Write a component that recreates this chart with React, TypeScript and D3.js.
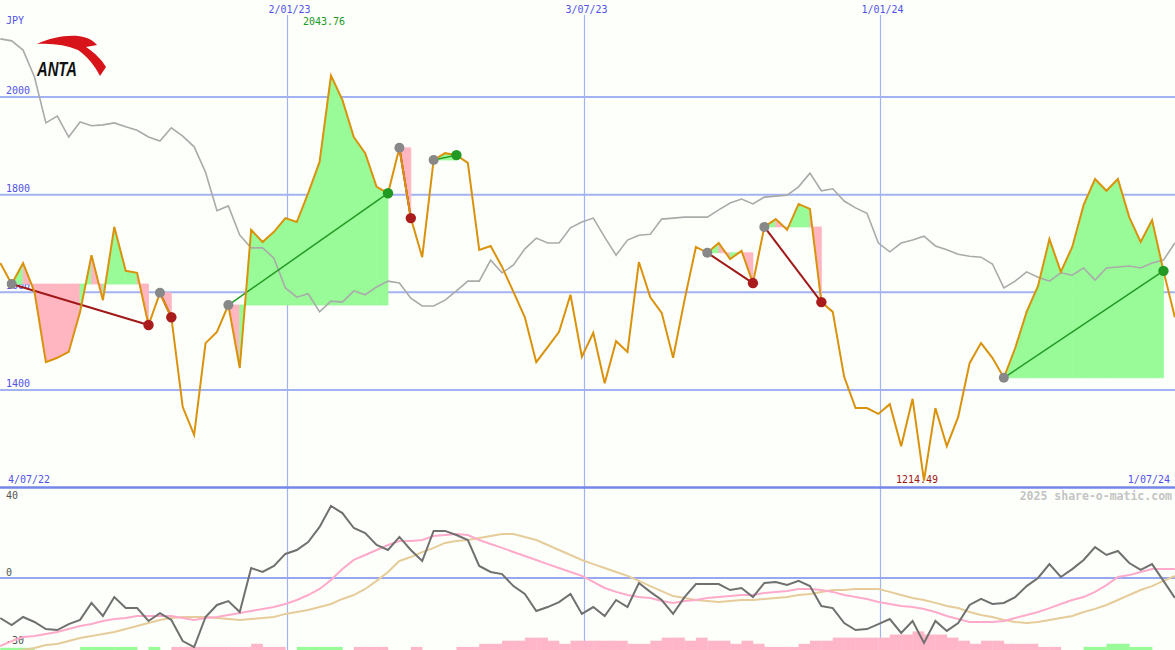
import React from 'react';
import * as d3 from 'd3';

// ANTA weekly close (JPY)
const priceJPY = [
  1660, 1617, 1660, 1601, 1457, 1466, 1478, 1560, 1676, 1584,
  1734, 1644, 1640, 1533, 1599, 1549, 1365, 1308, 1496, 1519,
  1574, 1445, 1728, 1703, 1724, 1752, 1744, 1803, 1867, 2043.76,
  1994, 1918, 1885, 1816, 1803, 1896, 1752, 1672, 1871, 1885,
  1881, 1865, 1687, 1695, 1652, 1601, 1549, 1457, 1488, 1519,
  1595, 1468, 1517, 1414, 1500, 1478, 1662, 1590, 1558, 1466,
  1584, 1693, 1681, 1701, 1668, 1685, 1619, 1734, 1750, 1728,
  1781, 1771, 1580, 1560, 1427, 1363, 1363, 1351, 1371, 1285,
  1382, 1214.49, 1363, 1285, 1345, 1455, 1496, 1466, 1425, 1486,
  1560, 1613, 1709, 1642, 1693, 1779, 1832, 1808, 1832, 1754,
  1703, 1748, 1644, 1549,
];

// comparison index, scaled to the price axis
const peerIndex = [
  2119, 2115, 2096, 2041, 1947, 1961, 1918, 1949, 1941, 1943,
  1947, 1939, 1932, 1918, 1910, 1937, 1920, 1898, 1846, 1767,
  1777, 1717, 1691, 1691, 1670, 1609, 1590, 1597, 1560, 1582,
  1580, 1603, 1595, 1611, 1623, 1619, 1588, 1572, 1572, 1584,
  1603, 1623, 1623, 1666, 1640, 1656, 1689, 1711, 1701, 1701,
  1732, 1744, 1752, 1713, 1676, 1707, 1717, 1719, 1750, 1752,
  1754, 1754, 1754, 1769, 1783, 1791, 1781, 1795, 1797, 1799,
  1816, 1844, 1808, 1812, 1787, 1773, 1762, 1701, 1683, 1701,
  1707, 1715, 1695, 1687, 1678, 1674, 1672, 1658, 1609, 1623,
  1642, 1631, 1623, 1640, 1635, 1650, 1625, 1650, 1652, 1654,
  1650, 1660, 1666, 1701,
];

// lower panel: oscillator and its two averages
const oscillator = [
  -19.3, -22.7, -18.8, -21.2, -24.6, -25.1, -22.2, -20.2, -12.0, -18.3,
  -9.2, -14.5, -14.5, -20.7, -16.9, -20.2, -30.4, -33.3, -18.8, -13.0,
  -11.1, -16.4, 4.8, 2.9, 5.8, 11.6, 13.5, 17.3, 24.6, 34.7,
  31.3, 24.1, 21.7, 15.9, 13.5, 19.8, 13.5, 8.2, 22.7, 22.7,
  20.7, 18.3, 5.8, 2.9, 1.9, -3.9, -7.7, -15.9, -14.0, -11.6,
  -7.7, -17.3, -14.0, -18.3, -10.6, -14.0, -2.4, -6.7, -10.6, -17.3,
  -9.2, -2.9, -2.9, -2.9, -5.8, -4.8, -9.2, -2.4, -1.9, -3.4,
  -1.4, -3.9, -13.5, -14.5, -21.7, -25.1, -24.6, -22.2, -19.8, -26.5,
  -20.7, -31.3, -20.7, -25.5, -21.7, -13.0, -10.1, -12.5, -12.0, -9.2,
  -3.9, 0.0, 6.7, 0.5, 4.3, 8.7, 14.9, 11.1, 13.0, 7.2,
  3.9, 6.7, -1.4, -9.6,
];

const maFast = [
  -32.8, -30.4, -28.4, -28.0, -27.0, -26.0, -24.6, -23.1, -22.2, -20.7,
  -19.8, -19.3, -18.3, -18.3, -18.3, -18.3, -19.3, -20.2, -19.3, -18.8,
  -17.8, -16.9, -15.9, -14.9, -14.0, -12.5, -10.6, -8.2, -5.3, -1.0,
  4.3, 8.7, 11.1, 13.5, 15.9, 17.8, 17.8, 18.3, 20.2, 20.7,
  21.2, 20.7, 18.3, 16.4, 14.5, 12.5, 10.6, 8.7, 6.7, 4.8,
  2.9, 1.0, -1.9, -4.8, -6.7, -8.2, -9.2, -9.6, -11.1, -12.0,
  -11.1, -10.6, -9.6, -9.2, -8.7, -8.2, -8.2, -7.2, -6.7, -6.3,
  -5.3, -5.3, -5.8, -6.7, -8.2, -9.2, -10.1, -11.6, -12.5, -13.5,
  -14.0, -14.9, -16.4, -18.3, -19.8, -21.2, -21.2, -21.2, -20.7, -19.3,
  -17.8, -16.4, -14.5, -12.5, -10.6, -9.2, -6.7, -3.4, 0.5, 1.4,
  2.9, 4.3, 4.3, 4.3,
];

const maSlow = [
  -36.6, -35.7, -34.7, -33.7, -32.3, -31.8, -30.4, -28.9, -27.9, -27.0,
  -26.0, -24.6, -23.1, -21.7, -20.2, -19.3, -18.8, -18.8, -18.8, -19.3,
  -19.8, -20.2, -19.8, -19.3, -18.8, -17.3, -16.4, -15.4, -14.0, -12.5,
  -10.1, -8.2, -5.3, -1.4, 2.9, 8.2, 10.1, 12.5, 14.5, 16.9,
  17.8, 18.3, 19.3, 20.2, 21.2, 21.2, 19.8, 18.3, 15.9, 13.5,
  11.1, 8.7, 6.7, 4.8, 2.9, 1.0, -1.4, -3.9, -6.3, -8.7,
  -9.6, -10.6, -11.1, -11.6, -11.1, -10.6, -10.6, -10.1, -9.6, -9.2,
  -8.2, -7.7, -6.7, -5.8, -5.8, -5.3, -5.3, -5.3, -6.7, -8.2,
  -9.6, -10.6, -12.0, -13.5, -14.5, -16.4, -17.8, -18.8, -20.2, -21.2,
  -21.7, -21.2, -20.2, -19.3, -18.3, -16.4, -14.9, -13.0, -10.6, -8.2,
  -5.8, -3.9, -1.4, 1.0,
];

// bottom histogram (positive = green, negative = pink)
const histogram = [
  0.7, 0.7, 0.7, 0, 0, 0, 0, 1, 1, 1,
  1, 1, 0, 1, 0, -1, -1, -1, -1, -1,
  -1, -1, -2, -1, -1, 0, 1, 1, 1, 1,
  0, -1, -1, -1, 0, 0, -1, 0, 0, 0,
  -1, -1, -2, -2, -3, -3, -4, -4, -3, -2,
  -3, -3, -3, -3, -3, -2, -2, -3, -4, -4,
  -3, -4, -3, -3, -2, -3, -2, -1, -1, -1,
  -2, -3, -3, -4, -4, -4, -4, -4, -5, -5,
  -6, -5, -5, -4, -3, -2, -3, -3, -2, -2,
  -2, -1, -1, 0, 0, 1, 1, 2, 2, 1,
  1, 0, 0, 0,
];

// trades: week index of entry and exit
const tradeEntries = [1, 14, 20, 35, 38, 62, 67, 88];
const tradeExits = [13, 15, 34, 36, 40, 66, 72, 102];

const gridDates = ['2023-01-02', '2023-07-03', '2024-01-01'];
const priceTicks = [2000, 1800, 1600, 1400];
const oscTicks = [40, 0, -30];
const currency = 'JPY';
const watermark = '2025 share-o-matic.com';

const W = 1175;
const H = 650;
const BG = '#fcfffa';
const GRID = '#a3b2f2';
const LABEL = '#5252ea';
const MONO = '"DejaVu Sans Mono", monospace';

const parseD = (s: string) => {
  const [y, m, d] = s.split('-').map(Number);
  return new Date(y, m - 1, d);
};

const START = new Date(2022, 6, 10);
const dates = priceJPY.map((_, i) => d3.timeDay.offset(START, 7 * i));
const domainStart = new Date(2022, 6, 4);
const domainEnd = new Date(2024, 6, 1);

export default function App() {
  const x = d3.scaleTime().domain([domainStart, domainEnd]).range([-9.5, 1176.5]);
  const y = d3.scaleLinear().domain([1400, 2000]).range([390, 97]);
  const yo = d3.scaleLinear().domain([0, 40]).range([578, 495]);
  const yh = d3.scaleLinear().domain([0, 10]).range([650, 619]);
  const fmt = d3.timeFormat('%-d/%m/%y');

  const lineMain = d3
    .line<number>()
    .x((_, i) => x(dates[i]))
    .y((d) => y(d));
  const lineOsc = d3
    .line<number>()
    .x((_, i) => x(dates[i]))
    .y((d) => yo(d));

  const stepW = x(dates[1]) - x(dates[0]);

  const maxI = priceJPY.indexOf(d3.max(priceJPY) as number);
  const minI = priceJPY.indexOf(d3.min(priceJPY) as number);

  // fills per trade segment
  const fills: { d: string; color: string; key: string }[] = [];
  tradeEntries.forEach((en, t) => {
    const ex = tradeExits[t];
    const level = priceJPY[en];
    for (let i = en; i < ex; i++) {
      const pts = [i, i + 1];
      const area = d3
        .area<number>()
        .x((k) => x(dates[k]))
        .y0(y(level))
        .y1((k) => y(priceJPY[k]));
      fills.push({
        d: area(pts) as string,
        color: priceJPY[i + 1] > level ? '#98fb98' : '#ffb6c1',
        key: `f${t}-${i}`,
      });
    }
  });

  return (
    <svg
      width={W}
      height={H}
      style={{ position: 'absolute', left: 0, top: 0, background: BG }}
      fontFamily={MONO}
    >
      <rect x={0} y={0} width={W} height={H} fill={BG} />

      {/* vertical grid */}
      {gridDates.map((s) => {
        const gx = Math.round(x(parseD(s))) + 0.5;
        return (
          <g key={s}>
            <line x1={gx} x2={gx} y1={15} y2={H} stroke={GRID} strokeWidth={1.2} />
            <text x={gx + 2} y={13} fontSize={10} fill={LABEL} textAnchor="middle">
              {fmt(parseD(s))}
            </text>
          </g>
        );
      })}

      {/* horizontal grid main */}
      {priceTicks.map((v) => (
        <g key={v}>
          <line x1={0} x2={W} y1={y(v)} y2={y(v)} stroke={GRID} strokeWidth={2} />
          <text x={6} y={y(v) - 3} fontSize={10} fill={LABEL}>
            {v}
          </text>
        </g>
      ))}
      <text x={6} y={24} fontSize={10} fill={LABEL}>
        {currency}
      </text>

      {/* trade fills */}
      {fills.map((f) => (
        <path
          key={f.key}
          d={f.d}
          fill={f.color}
          stroke={f.color}
          strokeWidth={0.8}
          strokeLinejoin="miter"
        />
      ))}

      {/* comparison line */}
      <path d={lineMain(peerIndex) as string} fill="none" stroke="#aaaaaa" strokeWidth={1.6} />

      {/* trade connectors */}
      {tradeEntries.map((en, t) => {
        const ex = tradeExits[t];
        const win = priceJPY[ex] > priceJPY[en];
        return (
          <line
            key={`c${t}`}
            x1={x(dates[en])}
            y1={y(priceJPY[en])}
            x2={x(dates[ex])}
            y2={y(priceJPY[ex])}
            stroke={win ? '#229922' : '#a01818'}
            strokeWidth={win ? 1.5 : 2}
          />
        );
      })}

      {/* price line */}
      <path d={lineMain(priceJPY) as string} fill="none" stroke="#da920c" strokeWidth={2} />

      {/* markers */}
      {tradeEntries.map((en, t) => {
        const ex = tradeExits[t];
        const win = priceJPY[ex] > priceJPY[en];
        return (
          <g key={`m${t}`}>
            <circle cx={x(dates[en])} cy={y(priceJPY[en])} r={5} fill="#888888" />
            <circle
              cx={x(dates[ex])}
              cy={y(priceJPY[ex])}
              r={5.2}
              fill={win ? '#229922' : '#aa1c1c'}
            />
          </g>
        );
      })}

      {/* max / min labels */}
      <text x={x(dates[maxI]) - 7} y={25} fontSize={10} fill="#229922" textAnchor="middle">
        {priceJPY[maxI].toFixed(2)}
      </text>
      <text x={x(dates[minI]) - 7} y={483} fontSize={10} fill="#a01818" textAnchor="middle">
        {priceJPY[minI].toFixed(2)}
      </text>

      {/* bottom date labels */}
      <text x={8} y={483} fontSize={10} fill={LABEL}>
        {fmt(domainStart)}
      </text>
      <text x={1170} y={483} fontSize={10} fill={LABEL} textAnchor="end">
        {fmt(domainEnd)}
      </text>

      {/* panel separator */}
      <line x1={0} x2={W} y1={487.5} y2={487.5} stroke="#7686ea" strokeWidth={2.5} />

      {/* lower panel */}
      {histogram.map((v, i) =>
        v === 0 ? null : (
          <rect
            key={`h${i}`}
            x={x(dates[i])}
            width={stepW + 0.3}
            y={yh(Math.abs(v))}
            height={H - yh(Math.abs(v))}
            fill={v > 0 ? '#98fb98' : '#ffb6c8'}
          />
        )
      )}
      <line x1={0} x2={W} y1={yo(0)} y2={yo(0)} stroke="#98a8f0" strokeWidth={2} />
      {oscTicks.map((v) => (
        <text key={`o${v}`} x={6} y={yo(v) + (v === 0 ? -2 : 4)} fontSize={10} fill="#555555">
          {v}
        </text>
      ))}
      <text
        x={1172}
        y={500}
        fontSize={11.5}
        fontWeight="bold"
        fill="#c4c4c4"
        textAnchor="end"
      >
        {watermark}
      </text>
      <path d={lineOsc(maSlow) as string} fill="none" stroke="#e6cc9a" strokeWidth={2} />
      <path d={lineOsc(maFast) as string} fill="none" stroke="#ffaacb" strokeWidth={2} />
      <path d={lineOsc(oscillator) as string} fill="none" stroke="#707070" strokeWidth={2} />

      {/* logo */}
      <g>
        <path
          d="M37,44 C50,38 64,35 78,36 C87,37 93,40 97,45 L86,47 C95,53 102,60 106,67 L100,76 C95,66 87,56 78,50 C66,45 52,43 37,44 Z"
          fill="#d7141a"
        />
        <text
          x={37}
          y={76}
          fontFamily="'Liberation Sans', Arial, sans-serif"
          fontSize={21}
          fontWeight="bold"
          fontStyle="italic"
          fill="#111111"
          textLength={40}
          lengthAdjust="spacingAndGlyphs"
        >
          ANTA
        </text>
      </g>
    </svg>
  );
}
